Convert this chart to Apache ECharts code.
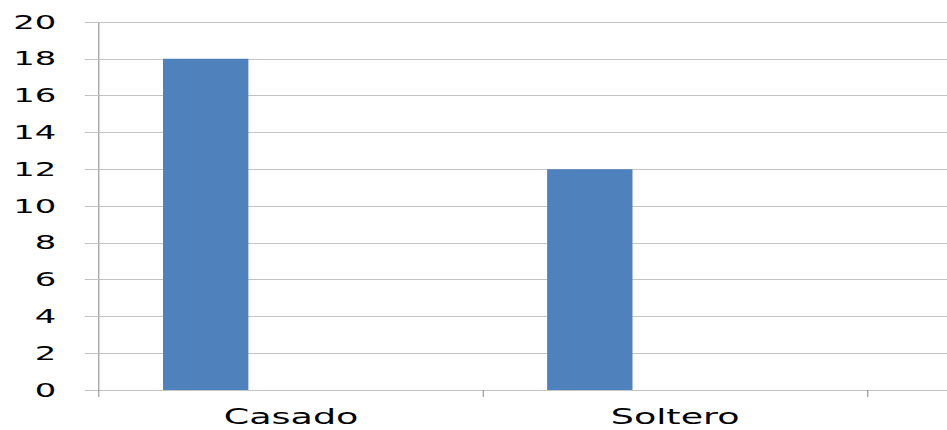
<!DOCTYPE html>
<html>
<head>
<meta charset="utf-8">
<script src="https://cdn.jsdelivr.net/npm/echarts@6/dist/echarts.min.js"></script>
<style>
  html, body { margin: 0; padding: 0; background: #fff; }
  #frame { width: 947px; height: 430px; overflow: hidden; position: relative; }
  /* the chart is drawn narrow and stretched horizontally for its wide lettering;
     its third, empty category runs past the right edge of the frame */
  #chart { width: 703px; height: 430px; transform: scaleX(1.78); transform-origin: 0 0; }
</style>
</head>
<body>
<div id="frame"><div id="chart"></div></div>
<script>
const categories = ['Casado', 'Soltero', ''];
const seriesA = [18, 12, null];
const seriesB = [0, 0, null];
const seriesC = [0, 0, null];
const yTicks = { min: 0, max: 20, step: 2 };

const STRETCH = 1.78;

const chart = echarts.init(document.getElementById('chart'), null, { renderer: 'svg' });

const barSeries = [seriesA, seriesB, seriesC].map(d => ({
  type: 'bar',
  data: d,
  barGap: '0%',
  barCategoryGap: '33.33%',
  itemStyle: { color: '#4f81bd' },
  silent: true
}));

chart.setOption({
  animation: false,
  grid: { left: 99 / STRETCH, top: 22, bottom: 40, right: 0 },
  xAxis: {
    type: 'category',
    data: categories,
    boundaryGap: true,
    axisLine: { show: true, lineStyle: { color: '#c4c4c4', width: 1 } },
    axisTick: { show: true, length: 7, lineStyle: { color: '#8c8c8c', width: 0.6 } },
    axisLabel: { color: '#000', fontFamily: 'DejaVu Sans', fontSize: 20.5, margin: 17 },
    splitLine: { show: false }
  },
  yAxis: {
    type: 'value',
    min: yTicks.min,
    max: yTicks.max,
    interval: yTicks.step,
    axisLine: { show: true, lineStyle: { color: '#8c8c8c', width: 0.6 } },
    axisTick: { show: true, length: 8, lineStyle: { color: '#c4c4c4', width: 1 } },
    axisLabel: { color: '#000', fontFamily: 'DejaVu Sans', fontSize: 19, margin: 24 },
    splitLine: { show: true, lineStyle: { color: '#c4c4c4', width: 1 } }
  },
  series: barSeries
});
</script>
</body>
</html>
